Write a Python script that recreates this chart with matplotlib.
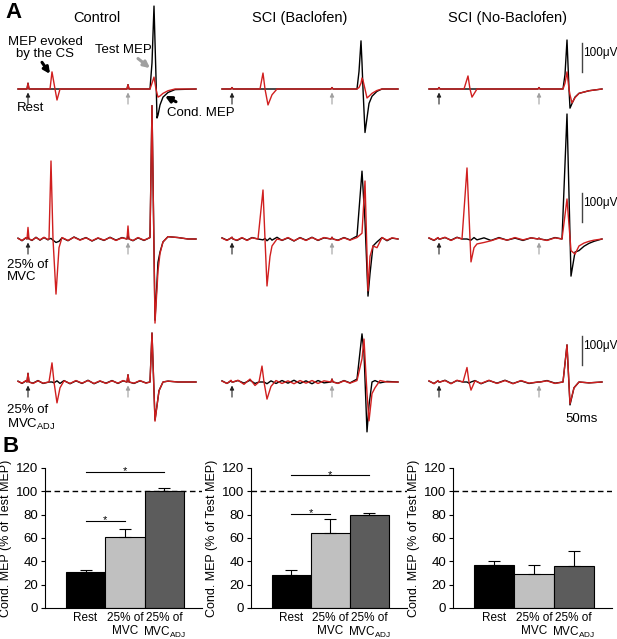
import matplotlib
matplotlib.use('Agg')
import matplotlib.pyplot as plt

plt.rcParams['font.family'] = ['Liberation Sans', 'DejaVu Sans']
plt.rcParams['mathtext.fontset'] = 'custom'
plt.rcParams['mathtext.rm'] = 'Liberation Sans'
plt.rcParams['mathtext.default'] = 'regular'

# ---- panel A: EMG traces (time in ms after sweep start, amplitude in uV) ----
# CS given at t=10 ms, test stimulus at t=110 ms
conditions = ['Control', 'SCI (Baclofen)', 'SCI (No-Baclofen)']
row_labels = ['Rest', '25% of\nMVC', '25% of\nMVC$_{ADJ}$']

ctrl_rest_t = [0, 9, 10, 11, 32, 34, 37, 39, 42, 109, 110, 111, 132, 134, 136, 138, 139, 140, 142, 145, 150, 157, 178]
ctrl_rest_black = [0, 0, 20, 0, 0, 0, 0, 0, 0, 0, 15, 0, 0, 90, 286, 40, -100, -90, -55, -28, -12, -2, 0]
ctrl_rest_red = [0, 0, 20, 0, 0, 59, 0, -38, 0, 0, 15, 0, 0, 20, 41, 0, -15, -28, -24, -15, -6, 0, 0]

bac_rest_t = [0, 9, 10, 11, 38, 41, 43, 46, 50, 55, 109, 110, 111, 135, 137, 139, 140, 141, 143, 145, 147, 150, 155, 160, 176]
bac_rest_black = [0, 0, 5, 0, 0, 0, 0, 0, 0, 0, 0, 5, 0, 0, 60, 166, 90, 0, -150, -100, -50, -25, -8, 0, 0]
bac_rest_red = [0, 0, 5, 0, 0, 55, 0, -55, -20, 0, 0, 5, 0, 0, 5, 20, 38, 30, 0, -31, -25, -15, -5, 0, 0]

nobac_rest_t = [0, 9, 10, 11, 35, 39, 41, 43, 48, 109, 110, 111, 134, 136, 138, 140, 141, 143, 146, 150, 160, 173]
nobac_rest_black = [0, 0, 5, 0, 0, 0, 0, 0, 0, 0, 5, 0, 0, 50, 169, 0, -66, -50, -28, -15, -6, 0]
nobac_rest_red = [0, 0, 5, 0, 0, 45, 0, -28, 0, 0, 5, 0, 0, 20, 59, 0, -20, -48, -30, -15, -6, 0]

ctrl_mvc_t = [0, 4, 8, 9, 10, 11, 14, 18, 22, 26, 30, 31, 33, 35, 38, 41, 44, 50, 56, 62, 68, 74, 80, 86, 92, 98, 104,
              109, 110, 111, 115, 120, 126, 132, 134, 137, 140, 142, 145, 150, 160, 170, 178]
ctrl_mvc_black = [3, -6, 4, 0, 8, 0, -5, 6, -4, 5, -3, 0, 2, -4, -12, -8, 4, -6, 7, -3, 5, -7, 3, -5, 6, -4, 5,
                  0, 15, 0, -6, 4, -5, 5, 460, -280, -80, -45, -10, 8, 5, 0, 0]
ctrl_mvc_red = [2, -5, 5, 0, 40, 0, -4, 5, -3, 6, -2, 0, 269, 0, -190, -30, 5, -5, 6, -4, 4, -6, 4, -4, 5, -5, 4,
                0, 45, 0, -5, 5, -4, 5, 460, -290, -110, -50, -10, 8, 5, 0, 0]

bac_mvc_t = [0, 5, 9, 10, 11, 15, 20, 25, 30, 36, 41, 43, 45, 48, 50, 55, 60, 66, 72, 78, 84, 90, 96, 102,
             109, 110, 111, 116, 122, 128, 135, 140, 143, 146, 148, 151, 155, 160, 165, 170, 176]
bac_mvc_black = [4, -4, 3, 6, 0, -5, 4, -4, 5, 0, -3, 2, -6, 3, -4, 6, -5, 4, -7, 5, -4, 6, -5, 4,
                 0, 6, 0, -4, 5, -3, 10, 234, 60, -197, -120, -24, -10, 5, -6, 3, 0]
bac_mvc_red = [3, -5, 4, 6, 0, -4, 5, -5, 4, 0, 169, 0, -162, -60, -24, 0, -4, 5, -6, 4, -5, 5, -4, 5,
               0, 6, 0, -5, 4, -4, 5, 20, 200, -179, -60, -24, -30, 5, -4, 4, 0]

nobac_mvc_t = [0, 5, 9, 10, 11, 16, 22, 28, 33, 38, 42, 45, 48, 55, 62, 70, 78, 86, 94, 102,
               109, 110, 111, 118, 126, 133, 138, 142, 146, 150, 155, 160, 165, 173]
nobac_mvc_black = [3, -5, 4, 0, 0, 5, -4, 6, 0, 0, -4, 5, -3, 4, -5, 5, -4, 3, -5, 4,
                   0, 3, 0, -4, 5, 0, 431, -128, -45, -40, -25, -15, -8, 0]
nobac_mvc_red = [4, -4, 5, 0, 0, 6, -5, 5, 0, 245, -79, -30, -17, -12, -6, 3, -4, 5, -3, 4,
                 0, 3, 0, -5, 4, 0, 138, -40, -52, -24, -14, -8, -4, 0]

ctrl_adj_t = [0, 4, 8, 9, 10, 11, 15, 20, 25, 31, 34, 36, 39, 42, 46, 52, 58, 64, 70, 76, 82, 88, 94, 100, 105,
              109, 110, 111, 116, 122, 128, 132, 134, 137, 141, 145, 150, 160, 170, 178]
ctrl_adj_black = [3, -5, 4, 0, 30, 0, -4, 5, -5, 0, 0, -3, 4, -5, 5, -6, 4, -5, 6, -6, 3, -4, 5, -5, 4,
                  0, 25, 0, -5, 4, -3, 0, 169, -131, -30, 0, 3, 0, 0, 0]
ctrl_adj_red = [2, -4, 5, 0, 30, 0, -5, 4, -4, 0, 66, 0, -72, -20, 4, -5, 5, -4, 5, -5, 4, -5, 4, -4, 5,
                0, 25, 0, -4, 5, -4, 0, 169, -135, -30, 0, 3, 0, 0, 0]

bac_adj_t = [0, 5, 9, 10, 11, 16, 22, 28, 33, 37, 40, 42, 45, 49, 54, 60, 66, 72, 78, 84, 90, 96, 102,
             109, 110, 111, 116, 122, 128, 135, 140, 142, 145, 147, 150, 153, 158, 165, 176]
bac_adj_black = [4, -5, 4, 0, 0, 5, -4, 6, -5, 0, 0, 0, -6, 4, -5, 5, -4, 6, -5, 4, -6, 5, -3,
                 0, 10, 0, -4, 5, -3, 10, 166, 100, -172, -80, 0, 5, -3, 2, 0]
bac_adj_red = [3, -5, 6, 0, 0, 6, -8, 10, -12, 0, 55, 0, -59, -15, 5, -5, 4, -6, 5, -4, 5, -5, 4,
               0, 10, 0, -5, 4, -4, 5, 80, 148, -40, -134, -40, -20, 5, 0, 0]

nobac_adj_t = [0, 5, 9, 10, 11, 16, 22, 28, 34, 38, 40, 42, 46, 52, 60, 68, 76, 84, 92, 100,
               109, 110, 111, 118, 126, 134, 138, 141, 145, 150, 160, 173]
nobac_adj_black = [3, -5, 4, 0, 0, 6, -5, 5, 0, 0, -4, 0, 5, -6, 5, -4, 6, -5, 4, -5,
                   0, 0, 0, 5, -4, 0, 128, -79, -20, 0, -3, 0]
nobac_adj_red = [4, -6, 5, 0, 0, 5, -6, 6, 0, 50, 0, -28, 4, -5, 6, -5, 5, -6, 5, -4,
                 0, 0, 0, 4, -5, 0, 128, -75, -20, 0, -3, 0]

# ---- panel B: conditioned MEP (% of test MEP), mean and upper SE ----
bar_labels = ['Rest', '25% of\nMVC', '25% of\nMVC$_{ADJ}$']
bar_colors = ['black', '#c0c0c0', '#5c5c5c']
ctrl_means = [31, 61, 100]
ctrl_err = [2, 6.6, 3]
bac_means = [28, 64, 80]
bac_err = [5, 12, 1.5]
nobac_means = [37, 29.5, 36]
nobac_err = [3.5, 7, 13]

W, H = 617, 639
fig = plt.figure(figsize=(W / 100, H / 100), dpi=100)


def px_axes(left, top, width, height):
    return fig.add_axes([left / W, 1 - (top + height) / H, width / W, height / H])


RED = '#d01f1f'
UV_HALF = 50 * 100 / 29.0   # 29 px = 100 uV

traces = [
    [(ctrl_rest_t, ctrl_rest_black, ctrl_rest_red),
     (bac_rest_t, bac_rest_black, bac_rest_red),
     (nobac_rest_t, nobac_rest_black, nobac_rest_red)],
    [(ctrl_mvc_t, ctrl_mvc_black, ctrl_mvc_red),
     (bac_mvc_t, bac_mvc_black, bac_mvc_red),
     (nobac_mvc_t, nobac_mvc_black, nobac_mvc_red)],
    [(ctrl_adj_t, ctrl_adj_black, ctrl_adj_red),
     (bac_adj_t, bac_adj_black, bac_adj_red),
     (nobac_adj_t, nobac_adj_black, nobac_adj_red)],
]
col_left = [18, 222, 429]
row_base = [89, 239, 382]
col_title_x = [97, 300, 507]

small_arrow = dict(arrowstyle='-|>', mutation_scale=6, lw=0.8, shrinkA=0, shrinkB=0)
big_arrow = dict(arrowstyle='-|>', mutation_scale=9, lw=2.2, shrinkA=0, shrinkB=0)

trace_axes = {}
for r in range(3):
    for c in range(3):
        ax = px_axes(col_left[c], row_base[r] - 50, 180, 100)
        ax.set_xlim(0, 180)
        ax.set_ylim(-UV_HALF, UV_HALF)
        ax.axis('off')
        t, blk, red = traces[r][c]
        ax.plot(t, blk, color='black', lw=1.0, clip_on=False, zorder=2)
        ax.plot(t, red, color=RED, lw=1.0, clip_on=False, zorder=3)
        ax.annotate('', xy=(10, -12), xytext=(10, -52),
                    arrowprops=dict(color='#222222', **small_arrow), annotation_clip=False)
        ax.annotate('', xy=(110, -12), xytext=(110, -52),
                    arrowprops=dict(color='#a0a0a0', **small_arrow), annotation_clip=False)
        trace_axes[(r, c)] = ax

for c in range(3):
    fig.text(col_title_x[c] / W, 1 - 18 / H, conditions[c], ha='center', va='center', fontsize=10.5)

# row labels
ax = trace_axes[(0, 0)]
ax.text(-1, -66, row_labels[0], ha='left', va='center', fontsize=9.5)
trace_axes[(1, 0)].text(-11, -110, row_labels[1], ha='left', va='center', fontsize=9.5, linespacing=1.0)
trace_axes[(2, 0)].text(-11, -124, row_labels[2], ha='left', va='center', fontsize=9.5, linespacing=1.0)

# explanatory annotations (Control, Rest)
ax.text(27, 141, 'MEP evoked\nby the CS', ha='center', va='center', fontsize=9.5, linespacing=1.0)
ax.annotate('', xy=(32, 52), xytext=(24, 92), arrowprops=dict(color='black', **big_arrow))
ax.text(105, 134, 'Test MEP', ha='center', va='center', fontsize=9.5)
ax.annotate('', xy=(132, 72), xytext=(120, 105), arrowprops=dict(color='#a0a0a0', **big_arrow))
ax.text(149, -83, 'Cond. MEP', ha='left', va='center', fontsize=9.5)
ax.annotate('', xy=(147, -24), xytext=(158, -44), arrowprops=dict(color='black', **big_arrow),
            annotation_clip=False)

# scale bars
for r in range(3):
    ax = trace_axes[(r, 2)]
    ax.plot([153, 153], [59, 159], color='#444444', lw=1.0, clip_on=False)
    ax.text(154.5, 124, '100\u03bcV', ha='left', va='center', fontsize=8.5)
trace_axes[(2, 2)].text(153, -128, '50ms', ha='center', va='center', fontsize=9.5)

fig.text(13 / W, 1 - 13 / H, 'A', ha='center', va='center', fontsize=16, fontweight='bold')
fig.text(11 / W, 1 - 447 / H, 'B', ha='center', va='center', fontsize=16, fontweight='bold')

# ---- panel B ----
bar_specs = [
    (45, 157, ctrl_means, ctrl_err, [((0, 1), 75), ((0, 2), 117)]),
    (251, 156, bac_means, bac_err, [((0, 1), 81), ((0, 2), 114)]),
    (453, 159, nobac_means, nobac_err, []),
]
x = [0, 1, 2]
for left, width, means, err, sig in bar_specs:
    ax = px_axes(left, 468, width, 140)
    ax.bar(x, means, width=1.0, color=bar_colors, edgecolor='black', lw=0.8, zorder=2)
    ax.errorbar(x, means, yerr=[[0, 0, 0], err], fmt='none', ecolor='black',
                elinewidth=0.8, capsize=4, capthick=0.8, zorder=3)
    ax.axhline(100, color='black', lw=1.0, ls=(0, (4, 2.5)), zorder=1)
    for (a, b), yv in sig:
        ax.plot([a, b], [yv, yv], color='black', lw=0.8, clip_on=False)
        ax.text((a + b) / 2, yv, '*', ha='center', va='center', fontsize=8)
    ax.set_xlim(-1.03, 2.96)
    ax.set_ylim(0, 120)
    ax.set_yticks([0, 20, 40, 60, 80, 100, 120])
    ax.set_xticks(x)
    ax.set_xticklabels(bar_labels, fontsize=8.5, linespacing=1.05)
    ax.tick_params(axis='x', length=0, pad=3)
    ax.tick_params(axis='y', length=3, direction='out', labelsize=9.5, pad=2)
    for s in ['top', 'right']:
        ax.spines[s].set_visible(False)
    for s in ['left', 'bottom']:
        ax.spines[s].set_linewidth(0.8)
    ax.set_ylabel('Cond. MEP (% of Test MEP)', fontsize=9, labelpad=3)

fig.savefig('out.png', dpi=100)
